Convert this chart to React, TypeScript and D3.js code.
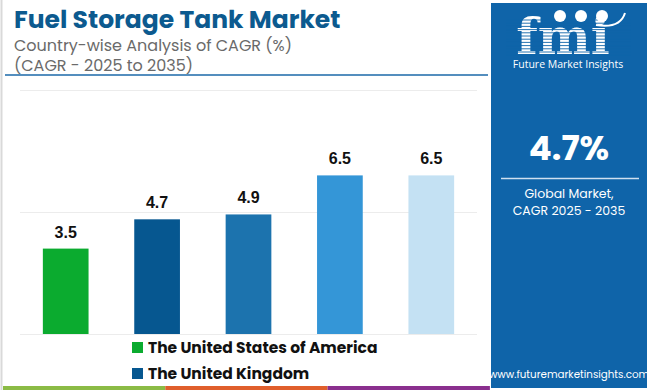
import * as d3 from "d3";
import { useEffect, useRef } from "react";

const countries = ["The United States of America", "The United Kingdom", "Country 3", "Country 4", "Country 5"];
const cagr = [3.5, 4.7, 4.9, 6.5, 6.5];
const barColors = ["#0bab2f", "#065790", "#1c73ae", "#3496d7", "#c4e1f3"];
const yTicks = [0, 5, 10];
const legendItems = ["The United States of America", "The United Kingdom"];

export default function App() {
    const svgRef = useRef<SVGSVGElement | null>(null);

    useEffect(() => {
        if (!svgRef.current) return;
        const svg = d3.select(svgRef.current);
        svg.selectAll("*").remove();

        const W = 650;
        const H = 390;
        svg.attr("width", W).attr("height", H);

        svg.append("rect").attr("width", W).attr("height", H).attr("fill", "#fff");
        // thin left frame
        svg.append("line")
            .attr("x1", 1.5).attr("x2", 1.5).attr("y1", 0).attr("y2", H)
            .attr("stroke", "#d9d9d9").attr("stroke-width", 2);

        // title block
        svg.append("text")
            .attr("x", 14).attr("y", 28)
            .attr("font-family", "Poppins, 'Open Sans', sans-serif")
            .attr("font-weight", 700).attr("font-size", 25)
            .attr("fill", "#0c5a8f")
            .text("Fuel Storage Tank Market");
        svg.append("text")
            .attr("x", 14).attr("y", 51)
            .attr("font-family", "Poppins, 'Open Sans', sans-serif")
            .attr("font-size", 16).attr("fill", "#6a6a6a")
            .text("Country-wise Analysis of CAGR (%)");
        svg.append("text")
            .attr("x", 14).attr("y", 71)
            .attr("font-family", "Poppins, 'Open Sans', sans-serif")
            .attr("font-size", 16).attr("fill", "#6a6a6a")
            .text("(CAGR - 2025 to 2035)");
        svg.append("line")
            .attr("x1", 5).attr("x2", 488).attr("y1", 75).attr("y2", 75)
            .attr("stroke", "#1b68a8").attr("stroke-width", 1.5);

        // chart
        const x = d3.scaleBand<string>()
            .domain(countries)
            .range([20, 477])
            .paddingInner(0.5)
            .paddingOuter(0.25);
        const y = d3.scaleLinear().domain([0, 10]).range([334, 90]);

        svg.append("g")
            .selectAll("line")
            .data(yTicks)
            .join("line")
            .attr("x1", 20).attr("x2", 477)
            .attr("y1", (d) => y(d) + 0.5).attr("y2", (d) => y(d) + 0.5)
            .attr("stroke", "#ececec").attr("stroke-width", 1);

        svg.append("g")
            .selectAll("rect")
            .data(cagr)
            .join("rect")
            .attr("x", (_, i) => x(countries[i])!)
            .attr("y", (d) => y(d))
            .attr("width", x.bandwidth())
            .attr("height", (d) => y(0) - y(d))
            .attr("fill", (_, i) => barColors[i]);

        svg.append("g")
            .selectAll("text")
            .data(cagr)
            .join("text")
            .attr("x", (_, i) => x(countries[i])! + x.bandwidth() / 2)
            .attr("y", (d) => y(d) - 11)
            .attr("text-anchor", "middle")
            .attr("font-family", "'Liberation Sans', Arial, sans-serif")
            .attr("font-weight", 700).attr("font-size", 16)
            .attr("fill", "#111")
            .text((d) => d.toFixed(1));

        // legend
        const lg = svg.append("g").selectAll("g").data(legendItems).join("g")
            .attr("transform", (_, i) => `translate(132,${342 + i * 26})`);
        lg.append("rect").attr("width", 11).attr("height", 11)
            .attr("fill", (_, i) => barColors[i]);
        lg.append("text")
            .attr("x", 16).attr("y", 11)
            .attr("font-family", "Poppins, 'Open Sans', sans-serif")
            .attr("font-weight", 700).attr("font-size", 15.5)
            .attr("fill", "#111")
            .text((d) => d);

        // bottom strip
        const strip = ["#8bbb45", "#e05f2c", "#8a2f8e"];
        svg.append("g").selectAll("rect").data(strip).join("rect")
            .attr("x", (_, i) => 3 + i * 162.3).attr("y", 386)
            .attr("width", 162.3).attr("height", 4)
            .attr("fill", (d) => d);

        // right panel
        const px = 491;
        const pw = 156;
        const cx = px + pw / 2;
        svg.append("rect")
            .attr("x", px).attr("y", 3).attr("width", pw).attr("height", 385)
            .attr("fill", "#0f64a9");

        // logo
        svg.append("text")
            .attr("x", cx - 6).attr("y", 54)
            .attr("text-anchor", "middle")
            .attr("font-family", "'DejaVu Serif', serif")
            .attr("font-weight", 700).attr("font-size", 50)
            .attr("fill", "#fff")
            .text("fmi");
        const stripes = d3.range(20, 56, 3.2);
        svg.append("g").selectAll("line").data(stripes).join("line")
            .attr("x1", px + 15).attr("x2", px + 140)
            .attr("y1", (d) => d).attr("y2", (d) => d)
            .attr("stroke", "#0f64a9").attr("stroke-width", 0.9);
        const dots = [[560, 16], [581, 16], [602, 16]];
        svg.append("g").selectAll("circle").data(dots).join("circle")
            .attr("cx", (d) => d[0]).attr("cy", (d) => d[1]).attr("r", 6)
            .attr("fill", "#fff");
        svg.append("path")
            .attr("d", "M596,25 Q620,29 625,13")
            .attr("fill", "none").attr("stroke", "#fff").attr("stroke-width", 2);
        svg.append("text")
            .attr("x", cx - 1).attr("y", 68)
            .attr("text-anchor", "middle")
            .attr("font-family", "'Open Sans', sans-serif")
            .attr("font-size", 10.5).attr("fill", "#fff")
            .text("Future Market Insights");

        svg.append("text")
            .attr("x", cx).attr("y", 160)
            .attr("text-anchor", "middle")
            .attr("font-family", "Poppins, 'Open Sans', sans-serif")
            .attr("font-weight", 700).attr("font-size", 34)
            .attr("fill", "#fff")
            .text("4.7%");
        svg.append("line")
            .attr("x1", px + 10).attr("x2", px + 148).attr("y1", 178.5).attr("y2", 178.5)
            .attr("stroke", "#cfe0f0").attr("stroke-width", 1.5);
        svg.append("text")
            .attr("x", cx).attr("y", 198)
            .attr("text-anchor", "middle")
            .attr("font-family", "Poppins, 'Open Sans', sans-serif")
            .attr("font-size", 12.5).attr("fill", "#fff")
            .text("Global Market,");
        svg.append("text")
            .attr("x", cx).attr("y", 215)
            .attr("text-anchor", "middle")
            .attr("font-family", "Poppins, 'Open Sans', sans-serif")
            .attr("font-size", 12.5).attr("fill", "#fff")
            .text("CAGR 2025 - 2035");
        svg.append("text")
            .attr("x", cx).attr("y", 378)
            .attr("text-anchor", "middle")
            .attr("font-family", "Poppins, 'Open Sans', sans-serif")
            .attr("font-size", 10.3).attr("fill", "#fff")
            .text("www.futuremarketinsights.com");
    }, []);

    return <svg ref={svgRef} style={{ position: "absolute", left: 0, top: 0, display: "block" }} />;
}
